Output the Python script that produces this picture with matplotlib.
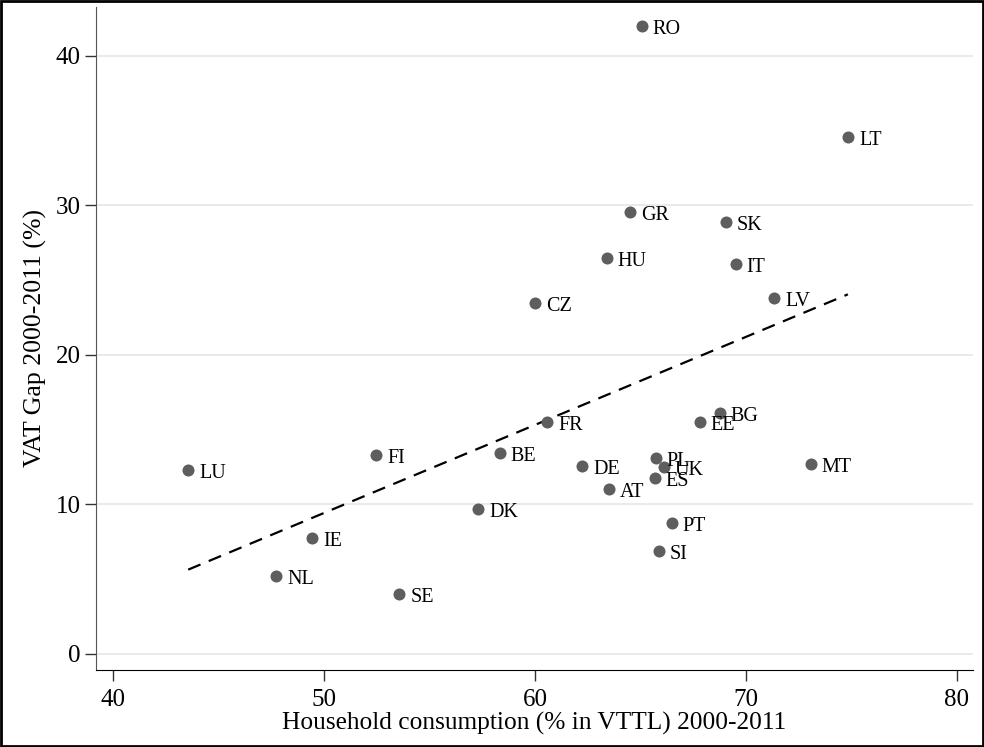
import numpy as np
import matplotlib.pyplot as plt
from matplotlib.patches import Rectangle

# Datos
paises = ['RO', 'LT', 'GR', 'SK', 'HU', 'IT', 'LV', 'CZ', 'BG', 'EE', 'FR', 'FI', 'BE',
          'DE', 'PL', 'UK', 'ES', 'AT', 'LU', 'MT', 'DK', 'PT', 'SI', 'IE', 'NL', 'SE']
consumo = [65.05, 74.83, 64.48, 69.04, 63.39, 69.51, 71.32, 59.98, 68.75, 67.81, 60.59, 52.48, 58.32,
           62.25, 65.72, 66.10, 65.67, 63.49, 43.56, 73.07, 57.32, 66.48, 65.86, 49.44, 47.73, 53.57]
gap_iva = [41.98, 34.56, 29.55, 28.88, 26.47, 26.07, 23.80, 23.46, 16.11, 15.51, 15.51, 13.30, 13.44,
           12.57, 13.10, 12.50, 11.76, 11.03, 12.30, 12.70, 9.69, 8.76, 6.89, 7.75, 5.21, 4.01]

plt.rcParams['font.family'] = ['Liberation Serif', 'DejaVu Serif']

fig = plt.figure(figsize=(9.84, 7.47), dpi=100)
ax = fig.add_axes([96 / 984, 77 / 747, 877 / 984, 663 / 747])

x = np.array(consumo)
y = np.array(gap_iva)

# recta de ajuste
m, b = np.polyfit(x, y, 1)
xs = np.array([x.min(), x.max()])
ax.plot(xs, m * xs + b, color='black', linestyle=(0, (6, 4)), linewidth=1.6, zorder=2)

ax.scatter(x, y, s=75, color='#5e5e5e', zorder=3, linewidths=0)
for p, xi, yi in zip(paises, x, y):
    ax.annotate(p, (xi, yi), xytext=(8, -2.5), textcoords='offset points',
                fontsize=14.5, va='center', ha='left', color='black')

ax.set_xlim(39.19, 80.76)
ax.set_ylim(-1.07, 43.25)
ax.set_xticks([40, 50, 60, 70, 80])
ax.set_yticks([0, 10, 20, 30, 40])
ax.tick_params(labelsize=18, length=8, width=1, direction='out', color='#333333')
ax.tick_params(axis='x', pad=6)
ax.tick_params(axis='y', pad=3)
ax.grid(axis='y', color='#e6e6e6', linewidth=1.2)
ax.set_axisbelow(True)
for s in ['top', 'right']:
    ax.spines[s].set_visible(False)
ax.spines['left'].set_color('#555555')
ax.spines['bottom'].set_color('black')

ax.set_xlabel('Household consumption (% in VTTL) 2000-2011', fontsize=18.3, labelpad=0)
ax.set_ylabel('VAT Gap 2000-2011 (%)', fontsize=18.5, labelpad=6)

fig.patches.append(Rectangle((0.001, 0.001), 0.998, 0.998, transform=fig.transFigure,
                             fill=False, edgecolor='black', linewidth=2))

fig.savefig('out.png', dpi=100)
